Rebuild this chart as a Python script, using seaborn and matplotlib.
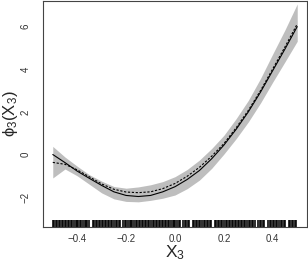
import matplotlib
matplotlib.use("Agg")
import matplotlib.pyplot as plt
import seaborn as sns
import numpy as np

x_grid = [-0.5, -0.45, -0.4, -0.35, -0.3, -0.25, -0.2, -0.15, -0.1, -0.05, 0.0,
          0.05, 0.1, 0.15, 0.2, 0.25, 0.3, 0.35, 0.4, 0.45, 0.5]
est = [0.0, -0.38, -0.78, -1.12, -1.45, -1.75, -1.92, -1.97, -1.92, -1.75, -1.51,
       -1.17, -0.75, -0.2, 0.44, 1.18, 2.0, 2.93, 3.94, 4.95, 6.0]
true_f = [-0.37, -0.46, -0.72, -1.05, -1.38, -1.63, -1.76, -1.79, -1.75, -1.6, -1.36,
          -1.02, -0.6, -0.08, 0.51, 1.25, 2.07, 3.0, 4.02, 5.05, 6.12]
upper = [0.38, -0.12, -0.55, -0.95, -1.25, -1.5, -1.58, -1.52, -1.42, -1.27, -1.04,
         -0.7, -0.26, 0.28, 0.9, 1.68, 2.54, 3.57, 4.72, 5.85, 7.06]
lower = [-1.1, -0.68, -1.0, -1.4, -1.8, -2.08, -2.2, -2.22, -2.15, -2.05, -1.9,
         -1.6, -1.2, -0.65, 0.02, 0.74, 1.53, 2.42, 3.4, 4.35, 5.31]

rug_x = [-0.499, -0.494, -0.488, -0.481, -0.476, -0.469, -0.463, -0.458, -0.451, -0.445,
         -0.438, -0.433, -0.426, -0.420, -0.414, -0.407, -0.401, -0.396, -0.389, -0.383,
         -0.377, -0.370, -0.364, -0.358, -0.352, -0.337, -0.331, -0.325, -0.318, -0.312,
         -0.306, -0.300, -0.293, -0.287, -0.281, -0.274, -0.268, -0.262, -0.256, -0.249,
         -0.243, -0.237, -0.230, -0.224, -0.211, -0.205, -0.199, -0.192, -0.186, -0.180,
         -0.174, -0.167, -0.161, -0.155, -0.149, -0.142, -0.136, -0.130, -0.123, -0.117,
         -0.111, -0.105, -0.098, -0.092, -0.086, -0.079, -0.073, -0.067, -0.061, -0.054,
         -0.048, -0.042, -0.036, -0.029, -0.023, -0.017, -0.010, -0.004, 0.002, 0.008,
         0.015, 0.021, 0.034, 0.040, 0.046, 0.052, 0.058, 0.073, 0.079, 0.085,
         0.092, 0.098, 0.104, 0.111, 0.117, 0.123, 0.129, 0.136, 0.142, 0.148,
         0.163, 0.169, 0.175, 0.182, 0.188, 0.194, 0.200, 0.207, 0.213, 0.219,
         0.226, 0.232, 0.238, 0.244, 0.251, 0.257, 0.263, 0.270, 0.276, 0.282,
         0.288, 0.295, 0.301, 0.307, 0.313, 0.320, 0.326, 0.341, 0.347, 0.353,
         0.359, 0.366, 0.382, 0.388, 0.394, 0.401, 0.407, 0.413, 0.419, 0.426,
         0.432, 0.438, 0.444, 0.451, 0.465, 0.471, 0.477, 0.484, 0.490, 0.496]

x_ticks = [-0.4, -0.2, 0.0, 0.2, 0.4]
x_ticklabels = ["\u22120.4", "\u22120.2", "0.0", "0.2", "0.4"]
y_ticks = [-2, 0, 2, 4, 6]
y_ticklabels = ["\u22122", "0", "2", "4", "6"]

sns.set_style("white")
plt.rcParams['font.family'] = ['Liberation Sans', 'DejaVu Sans']
plt.rcParams['mathtext.default'] = 'regular'

fig = plt.figure(figsize=(3.08, 2.69), dpi=100)
ax = fig.add_axes([43/308, 1 - 227/269, 264/308, 226/269])

ax.fill_between(x_grid, lower, upper, color="#BEBEBE", linewidth=0)
sns.lineplot(x=x_grid, y=est, ax=ax, color="black", linewidth=0.8)
sns.lineplot(x=x_grid, y=true_f, ax=ax, color="black", linewidth=0.8,
             linestyle=(0, (2.0, 1.5)))
sns.rugplot(x=rug_x, ax=ax, height=0.03, color="black", linewidth=1.15, alpha=1)

ax.set_xlim(-0.54, 0.54)
ax.set_ylim(-3.4, 7.2)
ax.set_xticks(x_ticks)
ax.set_xticklabels(x_ticklabels)
ax.set_yticks(y_ticks)
ax.set_yticklabels(y_ticklabels, rotation=90, va="center")

for s in ax.spines.values():
    s.set_color("#444444")
    s.set_linewidth(0.8)
ax.tick_params(axis="both", direction="out", length=4.3, width=0.8, color="#444444",
               labelsize=7, labelcolor="#333333")
ax.tick_params(axis="x", pad=1.0)
ax.tick_params(axis="y", pad=4.5)

ax.set_xlabel("X$_3$", fontsize=12.5, labelpad=-1)
ax.set_ylabel("\u03d5$_3$(X$_3$)", fontsize=12, labelpad=0.5)

fig.savefig("out.png", dpi=100)
